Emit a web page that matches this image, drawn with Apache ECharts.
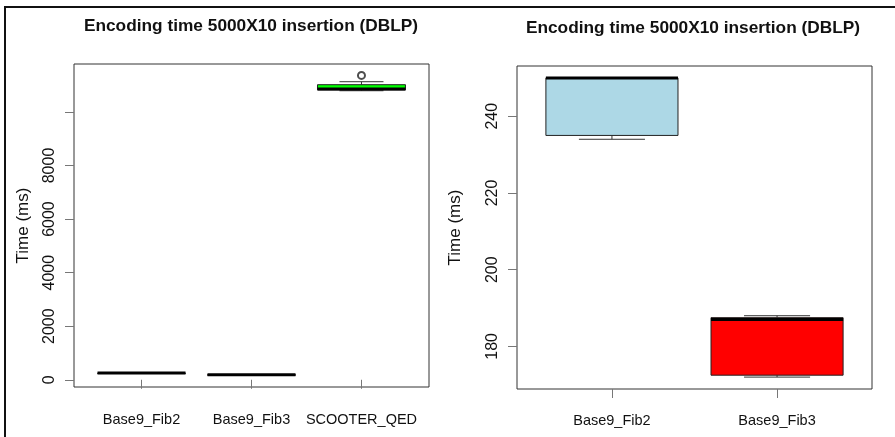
<!DOCTYPE html>
<html>
<head>
<meta charset="utf-8">
<script src="https://cdn.jsdelivr.net/npm/echarts@6/dist/echarts.min.js"></script>
<style>
    html, body { margin: 0; padding: 0; background: #fff; }
    #chart { width: 895px; height: 437px; }
</style>
</head>
<body>
<div id="chart"></div>
<script>
// chart data
var titleText = 'Encoding time 5000X10 insertion (DBLP)';
var yName = 'Time (ms)';
var leftCategories = ['Base9_Fib2', 'Base9_Fib3', 'SCOOTER_QED'];
// [min, q1, median, q3, max]
var leftBoxData = [
    [234, 235, 250, 250, 250],
    [172, 172.5, 187, 187.5, 188],
    [10792, 10822, 10860, 11017, 11129]
];
var leftOutliers = [[3, 11364]];
var leftYTicks = [0, 2000, 4000, 6000, 8000, 10000];
var leftYLabels = [0, 2000, 4000, 6000, 8000];

var rightCategories = ['Base9_Fib2', 'Base9_Fib3'];
var rightBoxData = [
    [234, 235, 250, 250, 250],
    [172, 172.5, 187, 187.5, 188]
];
var rightYTicks = [180, 200, 220, 240];

var boxColors = ['#add8e6', '#ff0000', '#00ff00'];
var fontName = 'Liberation Sans, Arial, sans-serif';

function buildItems(boxData) {
    var items = [];
    for (var i = 0; i < boxData.length; i++) {
        items.push([i + 1].concat(boxData[i]).concat([i]));
    }
    return items;
}

// draw an R style box: dashed whiskers, half width staples, thick median
function renderBox(params, api) {
    var x = api.value(0);
    var pMin = api.coord([x, api.value(1)]);
    var pQ1 = api.coord([x, api.value(2)]);
    var pMed = api.coord([x, api.value(3)]);
    var pQ3 = api.coord([x, api.value(4)]);
    var pMax = api.coord([x, api.value(5)]);
    var w = api.size([0.8, 0])[0];
    var cx = pMed[0];
    var color = boxColors[api.value(6)];
    var lineStyle = { stroke: '#333', lineWidth: 1 };
    return {
        type: 'group',
        children: [
            { type: 'line', shape: { x1: cx, y1: pMax[1], x2: cx, y2: pQ3[1] },
              style: { stroke: '#333', lineWidth: 1, lineDash: [4, 3] } },
            { type: 'line', shape: { x1: cx, y1: pQ1[1], x2: cx, y2: pMin[1] },
              style: { stroke: '#333', lineWidth: 1, lineDash: [4, 3] } },
            { type: 'line', shape: { x1: cx - w / 4, y1: pMax[1], x2: cx + w / 4, y2: pMax[1] },
              style: lineStyle },
            { type: 'line', shape: { x1: cx - w / 4, y1: pMin[1], x2: cx + w / 4, y2: pMin[1] },
              style: lineStyle },
            { type: 'rect', shape: { x: cx - w / 2, y: pQ3[1], width: w, height: pQ1[1] - pQ3[1] },
              style: { fill: color, stroke: '#222', lineWidth: 1 } },
            { type: 'line', shape: { x1: cx - w / 2, y1: pMed[1], x2: cx + w / 2, y2: pMed[1] },
              style: { stroke: '#000', lineWidth: 3 } }
        ]
    };
}

function xAxisFor(gridIndex, categories, min, max, margin) {
    var ticks = [];
    for (var i = 0; i < categories.length; i++) {
        ticks.push(i + 1);
    }
    return {
        type: 'value',
        gridIndex: gridIndex,
        min: min,
        max: max,
        axisLine: { show: false },
        splitLine: { show: false },
        axisTick: { show: true, length: 9, customValues: ticks, lineStyle: { color: '#777', width: 1 } },
        axisLabel: {
            customValues: ticks,
            margin: margin,
            color: '#111',
            fontSize: 14.5,
            fontFamily: fontName,
            formatter: function (v) {
                return categories[Math.round(v) - 1];
            }
        }
    };
}

function yAxisFor(gridIndex, min, max, ticks, labels, nameGap) {
    return {
        type: 'value',
        gridIndex: gridIndex,
        min: min,
        max: max,
        name: yName,
        nameLocation: 'middle',
        nameGap: nameGap,
        nameRotate: 90,
        nameTextStyle: { color: '#111', fontSize: 17, fontFamily: fontName },
        axisLine: { show: false },
        splitLine: { show: false },
        axisTick: { show: true, length: 9, customValues: ticks, lineStyle: { color: '#777', width: 1 } },
        axisLabel: {
            customValues: labels,
            rotate: 90,
            margin: 16,
            color: '#111',
            fontSize: 16,
            fontFamily: fontName,
            formatter: function (v) {
                return String(v);
            }
        }
    };
}

var chart = echarts.init(document.getElementById('chart'));
var option = {
    backgroundColor: '#fff',
    animation: false,
    title: [
        {
            text: titleText, left: 246, top: 13, textAlign: 'center',
            textStyle: { fontSize: 17.3, fontWeight: 'bold', color: '#111', fontFamily: fontName }
        },
        {
            text: titleText, left: 688, top: 15, textAlign: 'center',
            textStyle: { fontSize: 17.3, fontWeight: 'bold', color: '#111', fontFamily: fontName }
        }
    ],
    grid: [
        { left: 74, top: 64, width: 355, height: 323, show: true, borderColor: '#333', borderWidth: 1, backgroundColor: 'transparent' },
        { left: 517, top: 66, width: 355, height: 323, show: true, borderColor: '#333', borderWidth: 1, backgroundColor: 'transparent' }
    ],
    xAxis: [
        xAxisFor(0, leftCategories, 0.386, 3.614, 25),
        xAxisFor(1, rightCategories, 0.425, 2.575, 24)
    ],
    yAxis: [
        yAxisFor(0, -270, 11790, leftYTicks, leftYLabels, 42),
        yAxisFor(1, 168.9, 253.1, rightYTicks, rightYTicks, 53)
    ],
    graphic: [
        {
            type: 'polyline',
            shape: { points: [[5, 437], [5, 7], [895, 7]] },
            style: { stroke: '#111', lineWidth: 2, fill: null }
        }
    ],
    series: [
        {
            type: 'custom',
            xAxisIndex: 0,
            yAxisIndex: 0,
            renderItem: renderBox,
            data: buildItems(leftBoxData)
        },
        {
            type: 'scatter',
            xAxisIndex: 0,
            yAxisIndex: 0,
            symbol: 'emptyCircle',
            symbolSize: 7,
            itemStyle: { color: '#222', borderWidth: 1 },
            data: leftOutliers
        },
        {
            type: 'custom',
            xAxisIndex: 1,
            yAxisIndex: 1,
            renderItem: renderBox,
            data: buildItems(rightBoxData)
        }
    ]
};
chart.setOption(option);
</script>
</body>
</html>
